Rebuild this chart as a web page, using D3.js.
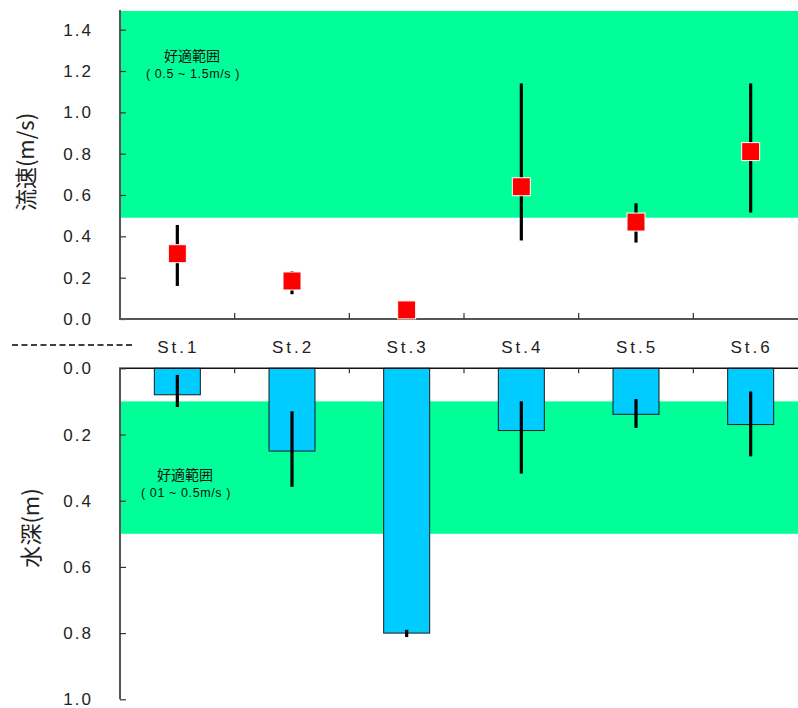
<!DOCTYPE html>
<html>
<head>
<meta charset="utf-8">
<script src="https://cdn.jsdelivr.net/npm/d3@7/dist/d3.min.js"></script>
<style>
  body { margin: 0; background: #fff; }
  svg { display: block; font-family: "Liberation Sans", Arial, sans-serif; }
</style>
</head>
<body>
<svg id="chart" width="798" height="708"></svg>
<script>
// Stations
const stations = ["St.1", "St.2", "St.3", "St.4", "St.5", "St.6"];

// Flow velocity (m/s): mean and range ends
const velocityMean = [0.316, 0.184, 0.044, 0.64, 0.469, 0.81];
const velocityLow  = [0.16, 0.12, 0.04, 0.38, 0.37, 0.515];
const velocityHigh = [0.455, 0.232, 0.048, 1.14, 0.56, 1.14];

// Water depth (m): mean and range ends
const depthMean = [0.08, 0.25, 0.80, 0.188, 0.139, 0.17];
const depthLow  = [0.02, 0.13, 0.79, 0.10, 0.093, 0.07];
const depthHigh = [0.117, 0.358, 0.812, 0.318, 0.18, 0.266];

// Suitable ranges
const velocityBand = [0.49, 1.5];
const depthBand = [0.1, 0.5];

// Axis ticks
const velocityTicks = [0, 0.2, 0.4, 0.6, 0.8, 1.0, 1.2, 1.4];
const depthTicks = [0, 0.2, 0.4, 0.6, 0.8, 1.0];

const svg = d3.select("#chart");
const W = 798;
const axisColor = "#555";
const green = "#00FF99";
const cjk = "'Noto Sans CJK JP', 'Noto Sans', sans-serif";

const x = d3.scaleBand().domain(stations).range([120, 808]).paddingInner(0).paddingOuter(0);

// Two-line caption inside a suitable-range band
function bandCaption(cx, y, title, range) {
  svg.append("text").attr("x", cx).attr("y", y)
    .attr("text-anchor", "middle").attr("font-family", cjk)
    .attr("font-size", 14).attr("fill", "#111").text(title);
  svg.append("text").attr("x", cx + 1).attr("y", y + 17)
    .attr("text-anchor", "middle").attr("font-size", 12.5).attr("letter-spacing", 0.6)
    .attr("fill", "#111").text(range);
}

// ---------- Upper panel: flow velocity ----------
const yV = d3.scaleLinear().domain([0, 1.5]).range([319, 9]);

svg.append("rect")
  .attr("x", 120).attr("width", W - 120)
  .attr("y", yV(velocityBand[1]) + 2)
  .attr("height", yV(velocityBand[0]) - yV(velocityBand[1]) - 2)
  .attr("fill", green);

bandCaption(192, 61, "好適範囲", "( 0.5 ~ 1.5m/s )");

// y axis
const axV = svg.append("g").attr("transform", "translate(120,0)")
  .call(d3.axisRight(yV).tickValues(velocityTicks).tickSize(6).tickFormat(""));
axV.select(".domain").attr("stroke", axisColor).attr("stroke-width", 2)
  .attr("d", `M0,${yV(1.5) + 1}V${yV(0)}`);
axV.selectAll(".tick line").attr("stroke", "#333").attr("stroke-width", 1.2);

svg.append("g").selectAll("text").data(velocityTicks).join("text")
  .attr("x", 93).attr("y", d => yV(d)).attr("dy", "0.36em")
  .attr("text-anchor", "end").attr("font-size", 17).attr("letter-spacing", 2)
  .attr("fill", "#222").text(d => d.toFixed(1));

// x axis (bottom of upper panel), ticks at station boundaries
const boundaries = stations.slice(1).map(s => x(s));
svg.append("line").attr("x1", 119).attr("x2", W).attr("y1", yV(0)).attr("y2", yV(0))
  .attr("stroke", axisColor).attr("stroke-width", 2);
svg.append("g").selectAll("line").data(boundaries).join("line")
  .attr("x1", d => d).attr("x2", d => d)
  .attr("y1", yV(0)).attr("y2", yV(0) - 6)
  .attr("stroke", "#333").attr("stroke-width", 1.2);

// error bars + markers
svg.append("g").selectAll("line").data(stations).join("line")
  .attr("x1", s => x(s) + x.bandwidth() / 2).attr("x2", s => x(s) + x.bandwidth() / 2)
  .attr("y1", (s, i) => yV(velocityHigh[i])).attr("y2", (s, i) => yV(velocityLow[i]))
  .attr("stroke", "#000").attr("stroke-width", 3.2);

const sq = 18;
svg.append("g").selectAll("rect").data(stations).join("rect")
  .attr("x", s => x(s) + x.bandwidth() / 2 - sq / 2)
  .attr("y", (s, i) => yV(velocityMean[i]) - sq / 2)
  .attr("width", sq).attr("height", sq)
  .attr("fill", "#FF0000").attr("stroke", "#fff").attr("stroke-width", 1);

svg.append("text")
  .attr("transform", `translate(34,162) rotate(-90)`)
  .attr("text-anchor", "middle")
  .attr("font-family", cjk).attr("font-size", 22).attr("fill", "#222").text("流速(m/s)");

// ---------- Divider and station labels ----------
svg.append("line").attr("x1", 12).attr("x2", 132).attr("y1", 345).attr("y2", 345)
  .attr("stroke", "#000").attr("stroke-width", 1.5).attr("stroke-dasharray", "6,3.5");

svg.append("g").selectAll("text").data(stations).join("text")
  .attr("x", s => x(s) + x.bandwidth() / 2 + 1).attr("y", 353)
  .attr("text-anchor", "middle").attr("font-size", 17).attr("letter-spacing", 3)
  .attr("fill", "#222").text(d => d);

// ---------- Lower panel: water depth ----------
const yD = d3.scaleLinear().domain([0, 1]).range([368.3, 699.3]);

svg.append("rect")
  .attr("x", 120).attr("width", W - 120)
  .attr("y", yD(depthBand[0]))
  .attr("height", yD(depthBand[1]) - yD(depthBand[0]))
  .attr("fill", green);

bandCaption(185, 480, "好適範囲", "( 01 ~ 0.5m/s )");

const barW = 46;
svg.append("g").selectAll("rect").data(stations).join("rect")
  .attr("x", s => x(s) + x.bandwidth() / 2 - barW / 2)
  .attr("y", yD(0))
  .attr("width", barW)
  .attr("height", (s, i) => yD(depthMean[i]) - yD(0))
  .attr("fill", "#00CCFF").attr("stroke", "#1a1a1a").attr("stroke-width", 1);

svg.append("g").selectAll("line").data(stations).join("line")
  .attr("x1", s => x(s) + x.bandwidth() / 2).attr("x2", s => x(s) + x.bandwidth() / 2)
  .attr("y1", (s, i) => yD(depthLow[i])).attr("y2", (s, i) => yD(depthHigh[i]))
  .attr("stroke", "#000").attr("stroke-width", 3.2);

// top axis line of lower panel
svg.append("line").attr("x1", 119).attr("x2", W).attr("y1", yD(0)).attr("y2", yD(0))
  .attr("stroke", "#111").attr("stroke-width", 1.5);
svg.append("g").selectAll("line").data(boundaries).join("line")
  .attr("x1", d => d).attr("x2", d => d)
  .attr("y1", yD(0)).attr("y2", yD(0) + 5)
  .attr("stroke", "#333").attr("stroke-width", 1.2);

const axD = svg.append("g").attr("transform", "translate(120,0)")
  .call(d3.axisRight(yD).tickValues(depthTicks).tickSize(6).tickFormat(""));
axD.select(".domain").attr("stroke", axisColor).attr("stroke-width", 2)
  .attr("d", `M0,${yD(0)}V${yD(1)}`);
axD.selectAll(".tick line").attr("stroke", "#333").attr("stroke-width", 1.2);

svg.append("g").selectAll("text").data(depthTicks).join("text")
  .attr("x", 93).attr("y", d => yD(d)).attr("dy", "0.36em")
  .attr("text-anchor", "end").attr("font-size", 17).attr("letter-spacing", 2)
  .attr("fill", "#222").text(d => d.toFixed(1));

svg.append("text")
  .attr("transform", `translate(39,528) rotate(-90)`)
  .attr("text-anchor", "middle")
  .attr("font-family", cjk).attr("font-size", 22).attr("fill", "#222").text("水深(m)");
</script>
</body>
</html>
